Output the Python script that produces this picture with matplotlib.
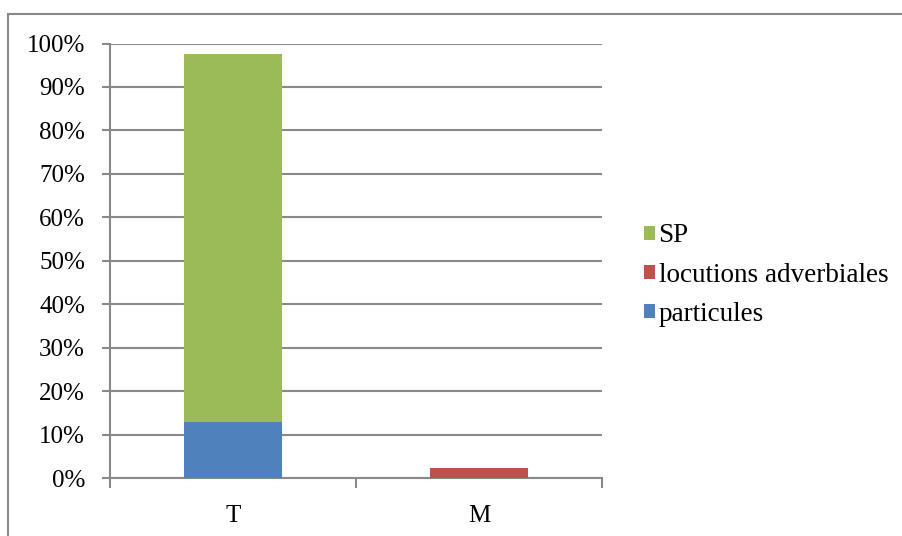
import numpy as np
import matplotlib
matplotlib.use("Agg")
import matplotlib.pyplot as plt
from matplotlib.patches import Rectangle
from matplotlib.ticker import FuncFormatter, MultipleLocator

# Data (share in %)
categories = ["T", "M"]
particules = [12.9, 0.0]
locutions = [0.0, 2.4]
sp = [84.7, 0.0]

plt.rcParams["font.family"] = ["Liberation Serif", "DejaVu Serif"]
fs = 18
fs_leg = 19.5
grey = "#898989"

fig = plt.figure(figsize=(9.03, 5.36), dpi=100)
ax = fig.add_axes([110 / 903, (536 - 478.3) / 536, 492 / 903, (478.3 - 43.5) / 536])

x = np.arange(len(categories))
w = 0.4
bottom = np.zeros(len(categories))
h_part = ax.bar(x, particules, w, bottom=bottom, color="#4F81BD", zorder=3, label="particules")
bottom += particules
h_loc = ax.bar(x, locutions, w, bottom=bottom, color="#C0504D", zorder=3, label="locutions adverbiales")
bottom += locutions
h_sp = ax.bar(x, sp, w, bottom=bottom, color="#9BBB59", zorder=3, label="SP")

ax.set_xlim(-0.5, len(categories) - 0.5)
ax.set_ylim(0, 100)
ax.yaxis.set_major_locator(MultipleLocator(10))
ax.yaxis.set_major_formatter(FuncFormatter(lambda v, p: f"{v:.0f}%"))
ax.grid(axis="y", color=grey, lw=1.5, zorder=0)

ax.set_xticks(x)
ax.set_xticklabels(categories)
ax.set_xticks(np.arange(len(categories) + 1) - 0.5, minor=True)
ax.tick_params(axis="x", which="major", length=0, pad=19, labelsize=fs)
ax.tick_params(axis="x", which="minor", length=7, width=1.5, color=grey)
ax.tick_params(axis="y", length=6, width=1.5, color=grey, pad=12, labelsize=fs)

for s in ["top", "right"]:
    ax.spines[s].set_visible(False)
for s in ["left", "bottom"]:
    ax.spines[s].set_color(grey)
    ax.spines[s].set_linewidth(1.5)

fig.legend([h_sp, h_loc, h_part], ["SP", "locutions adverbiales", "particules"],
           loc="center left", bbox_to_anchor=(644 / 903, 1 - 275 / 536),
           frameon=False, fontsize=fs_leg, borderpad=0, borderaxespad=0,
           handlelength=0.42, handleheight=0.42, handletextpad=0.12,
           labelspacing=0.52)

# outer chart frame (right/bottom edges run off the picture)
fig.patches.append(Rectangle((8 / 903, -0.1), 1.0, 1 - 14 / 536 + 0.1,
                             transform=fig.transFigure, fill=False,
                             edgecolor=grey, lw=1.5))

fig.savefig("out.png", dpi=100)
